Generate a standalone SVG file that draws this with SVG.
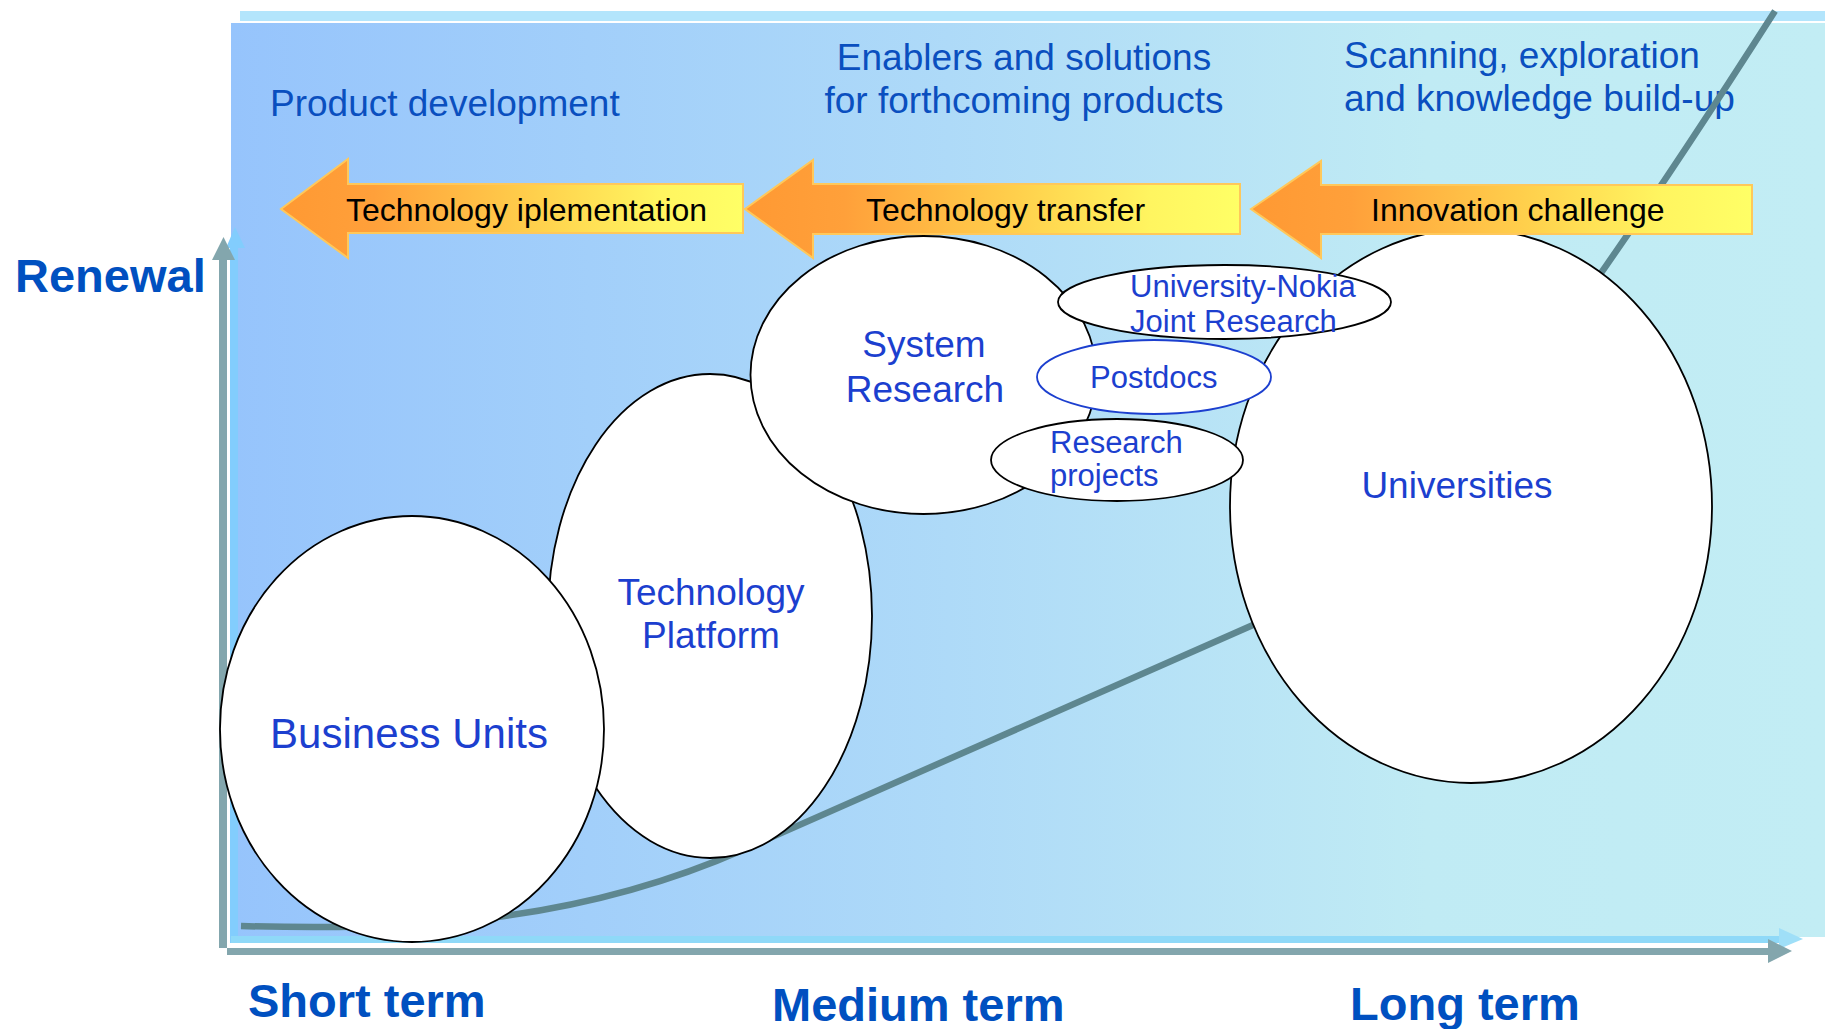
<svg xmlns="http://www.w3.org/2000/svg" width="1825" height="1029" viewBox="0 0 1825 1029">
<defs>
<linearGradient id="bg" x1="0" y1="0" x2="1" y2="0">
<stop offset="0" stop-color="#96c4fc"/>
<stop offset="0.45" stop-color="#aedaf8"/>
<stop offset="0.75" stop-color="#c0ebf4"/>
<stop offset="1" stop-color="#c2edf4"/>
</linearGradient>
<linearGradient id="arr" x1="0" y1="0" x2="1" y2="0">
<stop offset="0" stop-color="#ff9933"/>
<stop offset="0.2" stop-color="#ffa03a"/>
<stop offset="0.55" stop-color="#ffd04c"/>
<stop offset="0.82" stop-color="#fff560"/>
<stop offset="1" stop-color="#ffff66"/>
</linearGradient>
<style>
.hdr{font-family:"Liberation Sans",Arial,sans-serif;font-size:37px;fill:#0a4fbf}
.axis{font-family:"Liberation Sans",Arial,sans-serif;font-size:47px;font-weight:bold;fill:#0050c0}
.atxt{font-family:"Liberation Sans",Arial,sans-serif;font-size:32px;fill:#000}
.nl{font-family:"Liberation Sans",Arial,sans-serif;font-size:37px;fill:#1c3fcf;text-anchor:middle}
.ns{font-family:"Liberation Sans",Arial,sans-serif;font-size:31px;fill:#1c3fcf}
.ell{fill:#fff;stroke:#000;stroke-width:1.8}
.arrow{fill:url(#arr);stroke:#ffc85a;stroke-width:2}
.grey{fill:#83a6ad}
.lb{fill:#82cdfd}
</style>
</defs>

<g id="background">
<rect x="240" y="11" width="1585" height="10" fill="#b3e5fc"/>
<rect x="231" y="23" width="1594" height="914" fill="url(#bg)"/>
</g>

<g id="axes">
<rect class="lb" x="230" y="246" width="8" height="697"/>
<polygon class="lb" points="235,227 245,248 226,248"/>
<rect x="231" y="936" width="1550" height="7" fill="#8fd9f8"/>
<polygon points="1779,928 1803,939 1779,949" fill="#9fdff8"/>
<rect class="grey" x="219" y="258" width="8" height="690"/>
<polygon class="grey" points="223.5,237 235,260 212,260"/>
<rect class="grey" x="227" y="948" width="1543" height="7"/>
<polygon class="grey" points="1768,939 1792,951 1768,963"/>
</g>

<g id="header-texts">
<text class="hdr" x="270" y="116">Product development</text>
<text class="hdr" x="1024" y="70" text-anchor="middle">Enablers and solutions</text>
<text class="hdr" x="1024" y="113" text-anchor="middle">for forthcoming products</text>
<text class="hdr" x="1344" y="68">Scanning, exploration</text>
<text class="hdr" x="1344" y="111">and knowledge build-up</text>
</g>

<g id="connectors">
<path id="renewal-curve" d="M241,926 C411,931 575,924 745,849 C900,781 1100,692 1253,625 C1393,563 1522,407 1775,11" fill="none" stroke="#5e8790" stroke-width="6.5"/>
</g>

<g id="technology-platform">
<ellipse class="ell" cx="710" cy="616" rx="162" ry="242"/>
<text class="nl" x="711" y="605">Technology</text>
<text class="nl" x="711" y="648">Platform</text>
</g>

<g id="business-units">
<ellipse class="ell" cx="412" cy="729" rx="192" ry="213"/>
<text class="nl" x="409" y="748" style="font-size:42px">Business Units</text>
</g>

<g id="system-research">
<ellipse class="ell" cx="923.5" cy="375" rx="173" ry="139"/>
<text class="nl" x="924" y="357">System</text>
<text class="nl" x="925" y="402">Research</text>
</g>

<g id="universities">
<ellipse class="ell" cx="1471" cy="506" rx="241" ry="277"/>
<text class="nl" x="1457" y="498">Universities</text>
</g>

<g id="joint-research">
<ellipse class="ell" cx="1224.5" cy="302" rx="166.5" ry="37"/>
<text class="ns" x="1130" y="297">University-Nokia</text>
<text class="ns" x="1130" y="332">Joint Research</text>
</g>

<g id="postdocs">
<ellipse cx="1154" cy="377" rx="117" ry="37" fill="#fff" stroke="#1c3fcf" stroke-width="1.8"/>
<text class="ns" x="1090" y="388">Postdocs</text>
</g>

<g id="research-projects">
<ellipse class="ell" cx="1117" cy="460" rx="126" ry="41"/>
<text class="ns" x="1050" y="453">Research</text>
<text class="ns" x="1050" y="486">projects</text>
</g>

<g id="arrow-technology-implementation">
<polygon class="arrow" points="281,209 348,159 348,184 743,184 743,233 348,233 348,258"/>
<text class="atxt" x="346" y="221">Technology iplementation</text>
</g>

<g id="arrow-technology-transfer">
<polygon class="arrow" points="745,209 813,160 813,184 1240,184 1240,234 813,234 813,258"/>
<text class="atxt" x="866" y="221">Technology transfer</text>
</g>

<g id="arrow-innovation-challenge">
<polygon class="arrow" points="1251,209 1321,161 1321,185 1752,185 1752,234 1321,234 1321,258"/>
<text class="atxt" x="1371" y="221">Innovation challenge</text>
</g>

<g id="axis-labels">
<text class="axis" x="15" y="292">Renewal</text>
<text class="axis" x="248" y="1017">Short term</text>
<text class="axis" x="772" y="1021">Medium term</text>
<text class="axis" x="1350" y="1020">Long term</text>
</g>
</svg>
